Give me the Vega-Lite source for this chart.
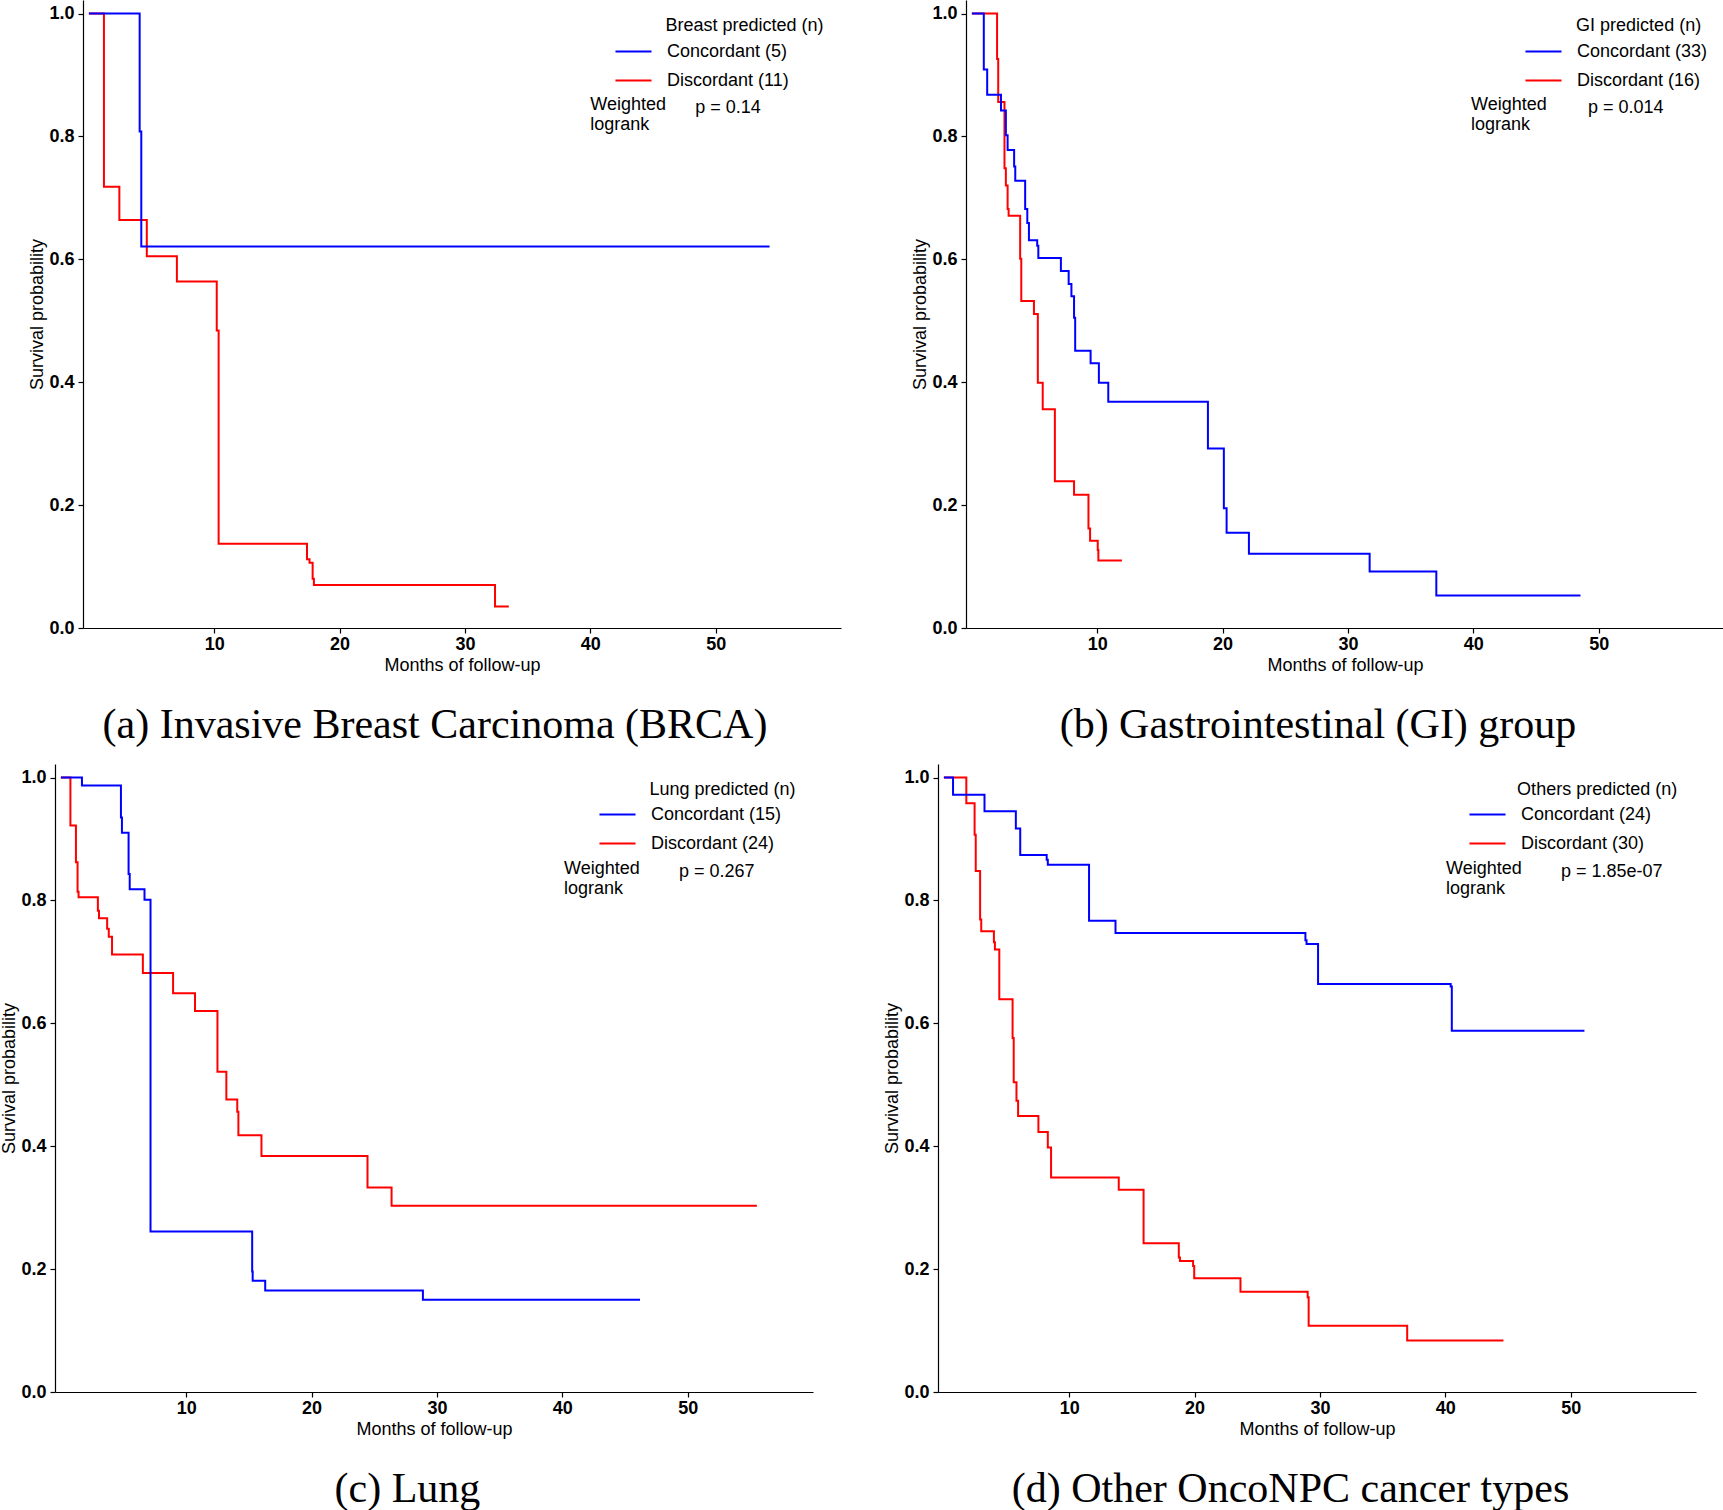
{
  "$schema": "https://vega.github.io/schema/vega-lite/v6.json",
  "padding": 0,
  "background": "white",
  "datasets": {
    "brca": [
      {"series": "Discordant (11)", "month": 0, "surv": 1},
      {"series": "Discordant (11)", "month": 1.2, "surv": 0.718},
      {"series": "Discordant (11)", "month": 2.43, "surv": 0.664},
      {"series": "Discordant (11)", "month": 4.62, "surv": 0.605},
      {"series": "Discordant (11)", "month": 7.02, "surv": 0.564},
      {"series": "Discordant (11)", "month": 10.2, "surv": 0.484},
      {"series": "Discordant (11)", "month": 10.35, "surv": 0.137},
      {"series": "Discordant (11)", "month": 17.4, "surv": 0.112},
      {"series": "Discordant (11)", "month": 17.6, "surv": 0.106},
      {"series": "Discordant (11)", "month": 17.85, "surv": 0.08},
      {"series": "Discordant (11)", "month": 17.95, "surv": 0.07},
      {"series": "Discordant (11)", "month": 32.4, "surv": 0.035},
      {"series": "Discordant (11)", "month": 33.5, "surv": 0.035},
      {"series": "Concordant (5)", "month": 0, "surv": 1},
      {"series": "Concordant (5)", "month": 4.05, "surv": 0.808},
      {"series": "Concordant (5)", "month": 4.18, "surv": 0.621},
      {"series": "Concordant (5)", "month": 54.3, "surv": 0.621}
    ],
    "gi": [
      {"series": "Discordant (16)", "month": 0, "surv": 1},
      {"series": "Discordant (16)", "month": 2.01, "surv": 0.926},
      {"series": "Discordant (16)", "month": 2.1, "surv": 0.856},
      {"series": "Discordant (16)", "month": 2.6, "surv": 0.748},
      {"series": "Discordant (16)", "month": 2.71, "surv": 0.72},
      {"series": "Discordant (16)", "month": 2.85, "surv": 0.682},
      {"series": "Discordant (16)", "month": 2.93, "surv": 0.671},
      {"series": "Discordant (16)", "month": 3.85, "surv": 0.601},
      {"series": "Discordant (16)", "month": 3.94, "surv": 0.532},
      {"series": "Discordant (16)", "month": 4.95, "surv": 0.511},
      {"series": "Discordant (16)", "month": 5.26, "surv": 0.399},
      {"series": "Discordant (16)", "month": 5.65, "surv": 0.356},
      {"series": "Discordant (16)", "month": 6.62, "surv": 0.239},
      {"series": "Discordant (16)", "month": 8.15, "surv": 0.217},
      {"series": "Discordant (16)", "month": 9.3, "surv": 0.162},
      {"series": "Discordant (16)", "month": 9.43, "surv": 0.142},
      {"series": "Discordant (16)", "month": 10.04, "surv": 0.127},
      {"series": "Discordant (16)", "month": 10.09, "surv": 0.11},
      {"series": "Discordant (16)", "month": 11.97, "surv": 0.11},
      {"series": "Concordant (33)", "month": 0, "surv": 1},
      {"series": "Concordant (33)", "month": 0.95, "surv": 0.909},
      {"series": "Concordant (33)", "month": 1.22, "surv": 0.868},
      {"series": "Concordant (33)", "month": 2.32, "surv": 0.842},
      {"series": "Concordant (33)", "month": 2.71, "surv": 0.802},
      {"series": "Concordant (33)", "month": 2.85, "surv": 0.778},
      {"series": "Concordant (33)", "month": 3.37, "surv": 0.751},
      {"series": "Concordant (33)", "month": 3.46, "surv": 0.728},
      {"series": "Concordant (33)", "month": 4.25, "surv": 0.682},
      {"series": "Concordant (33)", "month": 4.42, "surv": 0.659},
      {"series": "Concordant (33)", "month": 4.55, "surv": 0.631},
      {"series": "Concordant (33)", "month": 5.21, "surv": 0.622},
      {"series": "Concordant (33)", "month": 5.3, "surv": 0.602},
      {"series": "Concordant (33)", "month": 7.1, "surv": 0.581},
      {"series": "Concordant (33)", "month": 7.72, "surv": 0.56},
      {"series": "Concordant (33)", "month": 7.94, "surv": 0.54},
      {"series": "Concordant (33)", "month": 8.15, "surv": 0.505},
      {"series": "Concordant (33)", "month": 8.24, "surv": 0.451},
      {"series": "Concordant (33)", "month": 9.47, "surv": 0.431},
      {"series": "Concordant (33)", "month": 10.13, "surv": 0.399},
      {"series": "Concordant (33)", "month": 10.88, "surv": 0.368},
      {"series": "Concordant (33)", "month": 18.83, "surv": 0.292},
      {"series": "Concordant (33)", "month": 20.1, "surv": 0.195},
      {"series": "Concordant (33)", "month": 20.32, "surv": 0.155},
      {"series": "Concordant (33)", "month": 22.1, "surv": 0.121},
      {"series": "Concordant (33)", "month": 31.73, "surv": 0.092},
      {"series": "Concordant (33)", "month": 37.05, "surv": 0.053},
      {"series": "Concordant (33)", "month": 48.55, "surv": 0.053}
    ],
    "lung": [
      {"series": "Discordant (24)", "month": 0, "surv": 1},
      {"series": "Discordant (24)", "month": 0.76, "surv": 0.922},
      {"series": "Discordant (24)", "month": 1.2, "surv": 0.862},
      {"series": "Discordant (24)", "month": 1.33, "surv": 0.814},
      {"series": "Discordant (24)", "month": 1.41, "surv": 0.805},
      {"series": "Discordant (24)", "month": 2.95, "surv": 0.783},
      {"series": "Discordant (24)", "month": 3.04, "surv": 0.771},
      {"series": "Discordant (24)", "month": 3.69, "surv": 0.754},
      {"series": "Discordant (24)", "month": 3.82, "surv": 0.741},
      {"series": "Discordant (24)", "month": 4.08, "surv": 0.712},
      {"series": "Discordant (24)", "month": 6.54, "surv": 0.682},
      {"series": "Discordant (24)", "month": 8.95, "surv": 0.649},
      {"series": "Discordant (24)", "month": 10.7, "surv": 0.62},
      {"series": "Discordant (24)", "month": 12.49, "surv": 0.521},
      {"series": "Discordant (24)", "month": 13.2, "surv": 0.476},
      {"series": "Discordant (24)", "month": 14.07, "surv": 0.456},
      {"series": "Discordant (24)", "month": 14.16, "surv": 0.418},
      {"series": "Discordant (24)", "month": 16.0, "surv": 0.384},
      {"series": "Discordant (24)", "month": 24.46, "surv": 0.333},
      {"series": "Discordant (24)", "month": 26.38, "surv": 0.303},
      {"series": "Discordant (24)", "month": 55.52, "surv": 0.303},
      {"series": "Concordant (15)", "month": 0, "surv": 1},
      {"series": "Concordant (15)", "month": 1.68, "surv": 0.987},
      {"series": "Concordant (15)", "month": 4.79, "surv": 0.935},
      {"series": "Concordant (15)", "month": 4.87, "surv": 0.91},
      {"series": "Concordant (15)", "month": 5.4, "surv": 0.843},
      {"series": "Concordant (15)", "month": 5.49, "surv": 0.818},
      {"series": "Concordant (15)", "month": 6.67, "surv": 0.801},
      {"series": "Concordant (15)", "month": 7.15, "surv": 0.261},
      {"series": "Concordant (15)", "month": 15.26, "surv": 0.196},
      {"series": "Concordant (15)", "month": 15.3, "surv": 0.181},
      {"series": "Concordant (15)", "month": 16.3, "surv": 0.165},
      {"series": "Concordant (15)", "month": 28.88, "surv": 0.15},
      {"series": "Concordant (15)", "month": 46.2, "surv": 0.15}
    ],
    "others": [
      {"series": "Discordant (30)", "month": 0, "surv": 1},
      {"series": "Discordant (30)", "month": 1.79, "surv": 0.958},
      {"series": "Discordant (30)", "month": 2.45, "surv": 0.907},
      {"series": "Discordant (30)", "month": 2.54, "surv": 0.848},
      {"series": "Discordant (30)", "month": 2.89, "surv": 0.769},
      {"series": "Discordant (30)", "month": 2.98, "surv": 0.75},
      {"series": "Discordant (30)", "month": 3.99, "surv": 0.732},
      {"series": "Discordant (30)", "month": 4.07, "surv": 0.72},
      {"series": "Discordant (30)", "month": 4.42, "surv": 0.639},
      {"series": "Discordant (30)", "month": 5.48, "surv": 0.576},
      {"series": "Discordant (30)", "month": 5.57, "surv": 0.504},
      {"series": "Discordant (30)", "month": 5.79, "surv": 0.474},
      {"series": "Discordant (30)", "month": 5.92, "surv": 0.449},
      {"series": "Discordant (30)", "month": 7.54, "surv": 0.423},
      {"series": "Discordant (30)", "month": 8.29, "surv": 0.398},
      {"series": "Discordant (30)", "month": 8.55, "surv": 0.349},
      {"series": "Discordant (30)", "month": 13.95, "surv": 0.329},
      {"series": "Discordant (30)", "month": 15.93, "surv": 0.242},
      {"series": "Discordant (30)", "month": 18.74, "surv": 0.219},
      {"series": "Discordant (30)", "month": 18.83, "surv": 0.213},
      {"series": "Discordant (30)", "month": 19.88, "surv": 0.205},
      {"series": "Discordant (30)", "month": 19.97, "surv": 0.185},
      {"series": "Discordant (30)", "month": 23.66, "surv": 0.163},
      {"series": "Discordant (30)", "month": 29.02, "surv": 0.154},
      {"series": "Discordant (30)", "month": 29.1, "surv": 0.108},
      {"series": "Discordant (30)", "month": 36.96, "surv": 0.084},
      {"series": "Discordant (30)", "month": 44.64, "surv": 0.084},
      {"series": "Concordant (24)", "month": 0, "surv": 1},
      {"series": "Concordant (24)", "month": 0.73, "surv": 0.972},
      {"series": "Concordant (24)", "month": 3.24, "surv": 0.945},
      {"series": "Concordant (24)", "month": 5.74, "surv": 0.917},
      {"series": "Concordant (24)", "month": 6.09, "surv": 0.874},
      {"series": "Concordant (24)", "month": 8.2, "surv": 0.866},
      {"series": "Concordant (24)", "month": 8.29, "surv": 0.858},
      {"series": "Concordant (24)", "month": 11.58, "surv": 0.767},
      {"series": "Concordant (24)", "month": 13.69, "surv": 0.747},
      {"series": "Concordant (24)", "month": 28.84, "surv": 0.735},
      {"series": "Concordant (24)", "month": 28.93, "surv": 0.729},
      {"series": "Concordant (24)", "month": 29.85, "surv": 0.664},
      {"series": "Concordant (24)", "month": 40.43, "surv": 0.66},
      {"series": "Concordant (24)", "month": 40.52, "surv": 0.588},
      {"series": "Concordant (24)", "month": 51.1, "surv": 0.588}
    ]
  },
  "columns": 2,
  "spacing": {"row": 18, "column": 42},
  "resolve": {"scale": {"color": "independent"}, "legend": {"color": "independent"}},
  "concat": [
    {
      "width": 758, "height": 628,
      "title": {"text": "(a) Invasive Breast Carcinoma (BRCA)", "orient": "bottom", "anchor": "middle", "frame": "bounds", "offset": 31, "font": "Liberation Serif", "fontSize": 42, "fontWeight": "normal", "color": "black"},
      "layer": [
        {
          "data": {"name": "brca"},
          "mark": {"type": "line", "interpolate": "step-after", "strokeWidth": 2},
          "encoding": {
            "x": {"field": "month", "type": "quantitative", "scale": {"domain": [-0.47, 60], "nice": false, "zero": false}, "axis": {"title": "Months of follow-up", "values": [10, 20, 30, 40, 50]}},
            "y": {"field": "surv", "type": "quantitative", "scale": {"domain": [0, 1.022], "nice": false}, "axis": {"title": "Survival probability", "values": [0, 0.2, 0.4, 0.6, 0.8, 1.0], "format": ".1f"}},
            "color": {"field": "series", "type": "nominal", "scale": {"domain": ["Concordant (5)", "Discordant (11)"], "range": ["#0000ff", "#ff0000"]}, "legend": {"legendX": 531, "legendY": 32}}
          }
        },
        {"data": {"values": [{}]}, "mark": {"type": "text"}, "encoding": {"x": {"datum": 46.0}, "y": {"datum": 0.9938}, "text": {"value": "Breast predicted (n)"}}},
        {"data": {"values": [{}]}, "mark": {"type": "text", "lineHeight": 20}, "encoding": {"x": {"datum": 40.0}, "y": {"datum": 0.8655}, "text": {"value": ["Weighted", "logrank"]}}},
        {"data": {"values": [{}]}, "mark": {"type": "text"}, "encoding": {"x": {"datum": 48.37}, "y": {"datum": 0.8605}, "text": {"value": "p = 0.14"}}}
      ]
    },
    {
      "width": 758, "height": 628,
      "title": {"text": "(b) Gastrointestinal (GI) group", "orient": "bottom", "anchor": "middle", "frame": "bounds", "offset": 31, "font": "Liberation Serif", "fontSize": 42, "fontWeight": "normal", "color": "black"},
      "layer": [
        {
          "data": {"name": "gi"},
          "mark": {"type": "line", "interpolate": "step-after", "strokeWidth": 2},
          "encoding": {
            "x": {"field": "month", "type": "quantitative", "scale": {"domain": [-0.47, 60], "nice": false, "zero": false}, "axis": {"title": "Months of follow-up", "values": [10, 20, 30, 40, 50]}},
            "y": {"field": "surv", "type": "quantitative", "scale": {"domain": [0, 1.022], "nice": false}, "axis": {"title": "Survival probability", "values": [0, 0.2, 0.4, 0.6, 0.8, 1.0], "format": ".1f"}},
            "color": {"field": "series", "type": "nominal", "scale": {"domain": ["Concordant (33)", "Discordant (16)"], "range": ["#0000ff", "#ff0000"]}, "legend": {"legendX": 558, "legendY": 32}}
          }
        },
        {"data": {"values": [{}]}, "mark": {"type": "text"}, "encoding": {"x": {"datum": 48.2}, "y": {"datum": 0.9938}, "text": {"value": "GI predicted (n)"}}},
        {"data": {"values": [{}]}, "mark": {"type": "text", "lineHeight": 20}, "encoding": {"x": {"datum": 39.82}, "y": {"datum": 0.8655}, "text": {"value": ["Weighted", "logrank"]}}},
        {"data": {"values": [{}]}, "mark": {"type": "text"}, "encoding": {"x": {"datum": 49.15}, "y": {"datum": 0.8605}, "text": {"value": "p = 0.014"}}}
      ]
    },
    {
      "width": 758, "height": 628,
      "title": {"text": "(c) Lung", "orient": "bottom", "anchor": "middle", "frame": "bounds", "offset": 31, "dx": -13.5, "font": "Liberation Serif", "fontSize": 42, "fontWeight": "normal", "color": "black"},
      "layer": [
        {
          "data": {"name": "lung"},
          "mark": {"type": "line", "interpolate": "step-after", "strokeWidth": 2},
          "encoding": {
            "x": {"field": "month", "type": "quantitative", "scale": {"domain": [-0.47, 60], "range": [-28, 730], "nice": false, "zero": false}, "axis": {"title": "Months of follow-up", "values": [10, 20, 30, 40, 50]}},
            "y": {"field": "surv", "type": "quantitative", "scale": {"domain": [0, 1.022], "nice": false}, "axis": {"title": "Survival probability", "offset": 28, "values": [0, 0.2, 0.4, 0.6, 0.8, 1.0], "format": ".1f"}},
            "color": {"field": "series", "type": "nominal", "scale": {"domain": ["Concordant (15)", "Discordant (24)"], "range": ["#0000ff", "#ff0000"]}, "legend": {"legendX": 515, "legendY": 31}}
          }
        },
        {"data": {"values": [{}]}, "mark": {"type": "text"}, "encoding": {"x": {"datum": 46.95}, "y": {"datum": 0.9946}, "text": {"value": "Lung predicted (n)"}}},
        {"data": {"values": [{}]}, "mark": {"type": "text", "lineHeight": 20}, "encoding": {"x": {"datum": 40.14}, "y": {"datum": 0.8655}, "text": {"value": ["Weighted", "logrank"]}}},
        {"data": {"values": [{}]}, "mark": {"type": "text"}, "encoding": {"x": {"datum": 49.31}, "y": {"datum": 0.8605}, "text": {"value": "p = 0.267"}}}
      ]
    },
    {
      "width": 758, "height": 628,
      "title": {"text": "(d) Other OncoNPC cancer types", "orient": "bottom", "anchor": "middle", "frame": "bounds", "offset": 31, "dx": -13.5, "font": "Liberation Serif", "fontSize": 42, "fontWeight": "normal", "color": "black"},
      "layer": [
        {
          "data": {"name": "others"},
          "mark": {"type": "line", "interpolate": "step-after", "strokeWidth": 2},
          "encoding": {
            "x": {"field": "month", "type": "quantitative", "scale": {"domain": [-0.47, 60], "range": [-28, 730], "nice": false, "zero": false}, "axis": {"title": "Months of follow-up", "values": [10, 20, 30, 40, 50]}},
            "y": {"field": "surv", "type": "quantitative", "scale": {"domain": [0, 1.022], "nice": false}, "axis": {"title": "Survival probability", "offset": 28, "values": [0, 0.2, 0.4, 0.6, 0.8, 1.0], "format": ".1f"}},
            "color": {"field": "series", "type": "nominal", "scale": {"domain": ["Concordant (24)", "Discordant (30)"], "range": ["#0000ff", "#ff0000"]}, "legend": {"legendX": 502, "legendY": 31}}
          }
        },
        {"data": {"values": [{}]}, "mark": {"type": "text"}, "encoding": {"x": {"datum": 45.73}, "y": {"datum": 0.9946}, "text": {"value": "Others predicted (n)"}}},
        {"data": {"values": [{}]}, "mark": {"type": "text", "lineHeight": 20}, "encoding": {"x": {"datum": 40.06}, "y": {"datum": 0.8655}, "text": {"value": ["Weighted", "logrank"]}}},
        {"data": {"values": [{}]}, "mark": {"type": "text"}, "encoding": {"x": {"datum": 49.23}, "y": {"datum": 0.8605}, "text": {"value": "p = 1.85e-07"}}}
      ]
    }
  ],
  "config": {
    "view": {"stroke": null},
    "font": "Liberation Sans",
    "axis": {"domainColor": "black", "tickColor": "black", "grid": false, "labelFont": "Liberation Sans", "labelFontSize": 18, "labelFontWeight": "bold", "labelColor": "black", "titleFont": "Liberation Sans", "titleFontSize": 18, "titleFontWeight": "normal", "titleColor": "black", "tickSize": 5, "domainWidth": 1.2, "tickWidth": 1.2},
    "axisX": {"labelPadding": 2, "titlePadding": 3},
    "axisY": {"labelPadding": 4, "titlePadding": 2},
    "legend": {"orient": "none", "title": null, "symbolType": "stroke", "symbolSize": 1300, "symbolStrokeWidth": 2, "labelFont": "Liberation Sans", "labelFontSize": 18, "labelColor": "black", "labelOffset": 14, "rowPadding": -12, "padding": 0},
    "text": {"align": "left", "baseline": "top", "font": "Liberation Sans", "fontSize": 18, "fontWeight": "normal", "fill": "black"}
  }
}
